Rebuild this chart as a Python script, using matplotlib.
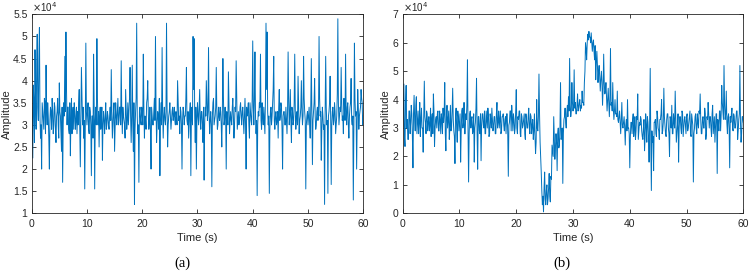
import numpy as np
import matplotlib
matplotlib.use("Agg")
import matplotlib.pyplot as plt

# Amplitude values in units of 1e4.
# amp_a / amp_b: samples at t = 0, 0.2, 0.4, ... 60 s
# amp_a_mid / amp_b_mid: samples at t = 0.1, 0.3, ... 59.9 s
amp_a = [
    3.8, 2.25, 3.5, 4.7, 2.9, 5.05, 3.1, 5.2, 2.7, 2.0,
    3.3, 2.9, 3.5, 4.35, 3.0, 3.2, 2.0, 3.4, 2.9, 3.3,
    3.0, 3.4, 2.6, 3.3, 3.0, 3.95, 3.2, 2.4, 1.7, 3.5,
    4.55, 5.1, 3.0, 3.4, 2.8, 2.3, 3.6, 3.2, 2.9, 3.3,
    3.1, 2.8, 3.0, 3.8, 2.05, 4.3, 3.0, 2.7, 1.55, 4.85,
    3.0, 3.5, 2.8, 3.3, 1.85, 3.2, 4.6, 1.55, 3.4, 4.95,
    3.0, 2.5, 3.4, 3.1, 2.2, 3.3, 2.8, 3.5, 3.0, 3.2,
    2.9, 3.4, 4.25, 2.7, 3.3, 2.4, 3.5, 3.0, 3.6, 3.1,
    3.4, 4.45, 2.8, 3.2, 3.0, 3.8, 2.9, 3.5, 3.3, 4.3,
    2.6, 4.35, 2.4, 1.2, 3.3, 5.3, 2.8, 1.7, 3.4, 3.0,
    3.3, 4.6, 2.7, 3.1, 3.5, 4.0, 2.9, 3.4, 2.0, 3.2,
    3.0, 3.6, 5.0, 2.6, 3.3, 2.9, 1.85, 3.5, 4.75, 2.7,
    3.4, 3.0, 5.3, 2.5, 3.2, 3.5, 2.9, 3.3, 3.1, 3.4,
    3.0, 3.2, 4.0, 3.1, 2.8, 3.3, 2.0, 3.4, 3.0, 3.2,
    4.3, 3.0, 2.7, 3.3, 1.85, 3.4, 5.0, 4.95, 2.6, 2.0,
    3.5, 3.0, 3.8, 2.9, 3.3, 2.6, 1.75, 3.4, 4.0, 3.1,
    4.75, 2.8, 3.3, 1.6, 3.5, 3.0, 3.2, 4.3, 2.9, 3.4,
    3.1, 3.3, 2.5, 4.5, 3.0, 3.4, 2.0, 3.2, 4.2, 2.8,
    3.3, 3.0, 3.6, 2.7, 3.4, 4.45, 2.9, 3.3, 3.1, 3.5,
    3.0, 3.4, 2.8, 3.6, 2.0, 3.2, 3.5, 2.7, 3.3, 3.0,
    4.9, 3.0, 4.65, 2.8, 1.4, 3.3, 3.5, 4.6, 2.9, 3.2,
    3.4, 2.8, 5.3, 5.1, 3.0, 1.45, 3.3, 3.0, 3.5, 4.55,
    2.9, 3.3, 3.1, 2.7, 3.8, 3.2, 3.4, 2.0, 3.3, 3.0,
    3.4, 2.8, 4.65, 3.0, 3.8, 2.6, 3.3, 3.1, 4.6, 2.9,
    3.3, 4.1, 2.8, 3.2, 4.0, 3.0, 4.55, 3.3, 1.55, 3.2,
    3.0, 3.4, 2.7, 4.5, 2.1, 3.3, 4.05, 2.9, 3.3, 3.1,
    5.0, 3.2, 2.2, 3.4, 2.9, 1.2, 4.55, 3.0, 1.45, 3.3,
    4.1, 1.65, 3.3, 3.0, 3.5, 2.8, 3.2, 5.4, 3.0, 3.4,
    4.3, 3.1, 2.8, 3.3, 4.6, 3.0, 3.5, 2.7, 3.4, 4.05,
    3.0, 1.3, 4.85, 3.2, 2.0, 3.8, 2.9, 3.3, 3.8, 3.5,
    3.2,
]

amp_a_mid = [
    3.0, 3.9, 2.6, 3.6, 4.2, 3.4, 4.5, 3.2, 3.0, 3.5,
    3.1, 3.6, 2.8, 3.3, 3.5, 2.7, 3.1, 3.3, 3.6, 2.8,
    3.5, 2.9, 3.2, 3.6, 2.7, 3.3, 2.8, 3.4, 3.0, 3.2,
    3.3, 3.8, 3.4, 2.9, 3.5, 3.1, 2.8, 3.4, 3.5, 2.9,
    3.4, 3.3, 3.5, 2.9, 3.2, 3.6, 3.4, 3.1, 3.0, 3.3,
    3.3, 2.9, 3.4, 3.0, 3.2, 2.7, 3.5, 3.1, 3.0, 3.6,
    3.3, 3.2, 2.9, 3.4, 3.0, 3.1, 3.2, 2.9, 3.3, 3.0,
    3.2, 3.1, 3.3, 3.0, 3.5, 2.9, 3.2, 3.3, 3.0, 3.4,
    3.0, 3.3, 3.4, 3.1, 2.7, 3.3, 3.1, 3.0, 3.6, 3.2,
    3.2, 3.0, 3.5, 2.9, 3.6, 3.2, 3.0, 3.3, 3.1, 3.4,
    3.0, 3.4, 3.2, 2.9, 3.6, 3.3, 3.1, 2.8, 3.4, 3.0,
    3.3, 3.1, 3.4, 3.0, 3.2, 3.6, 3.1, 3.0, 3.3, 3.2,
    3.1, 3.3, 3.4, 3.0, 3.3, 3.2, 3.1, 3.4, 3.2, 3.1,
    3.3, 3.0, 3.5, 3.2, 3.4, 3.0, 3.1, 3.3, 3.2, 3.6,
    3.1, 3.3, 3.0, 3.5, 3.2, 3.0, 3.8, 3.2, 3.4, 3.1,
    3.2, 3.4, 3.1, 3.3, 3.0, 3.4, 3.0, 3.2, 3.5, 3.3,
    3.3, 3.1, 3.0, 3.2, 3.6, 3.1, 3.4, 3.3, 3.0, 3.2,
    3.4, 3.0, 3.3, 3.6, 3.1, 3.2, 3.3, 3.0, 3.5, 3.1,
    3.1, 3.4, 3.2, 3.0, 3.3, 3.6, 3.1, 3.0, 3.4, 3.2,
    3.3, 3.1, 3.2, 3.0, 3.4, 3.3, 3.0, 3.5, 3.1, 3.6,
    3.4, 3.6, 3.2, 3.1, 3.0, 3.2, 3.4, 3.1, 3.5, 3.0,
    3.1, 3.6, 3.8, 3.3, 3.2, 2.9, 3.4, 3.2, 3.8, 3.1,
    3.2, 3.0, 3.3, 3.4, 3.1, 3.5, 2.9, 3.2, 3.3, 3.0,
    3.1, 3.3, 3.6, 3.2, 3.1, 3.4, 3.0, 3.5, 3.3, 3.2,
    3.0, 3.5, 3.1, 3.4, 3.3, 3.2, 3.6, 3.1, 3.0, 3.3,
    3.2, 3.0, 3.4, 3.3, 3.1, 3.5, 3.2, 3.0, 3.4, 3.2,
    3.6, 3.3, 2.9, 3.2, 3.0, 3.3, 3.4, 3.1, 3.2, 3.5,
    3.2, 3.0, 3.4, 3.1, 3.3, 3.0, 3.7, 3.5, 3.2, 3.3,
    3.5, 3.2, 3.6, 3.1, 3.3, 3.4, 3.0, 3.2, 3.5, 3.1,
    3.2, 2.9, 3.6, 3.3, 3.1, 3.4, 3.2, 3.4, 3.6, 3.0,
]

amp_b = [
    3.0, 4.55, 2.35, 4.5, 3.3, 2.6, 3.6, 3.2, 3.5, 1.6,
    4.15, 2.9, 4.1, 3.2, 2.8, 3.9, 3.3, 3.0, 2.15, 4.65,
    3.2, 3.6, 2.9, 3.4, 3.1, 2.7, 3.5, 4.2, 2.35, 3.3,
    3.0, 3.6, 2.9, 3.3, 3.5, 2.8, 3.2, 4.6, 2.2, 3.8,
    3.3, 2.6, 3.8, 3.0, 4.4, 2.9, 1.75, 3.7, 2.5, 3.4,
    3.2, 1.8, 3.6, 3.0, 3.9, 2.8, 3.3, 5.4, 1.1, 3.5,
    3.0, 3.4, 2.9, 1.8, 3.2, 4.75, 1.55, 3.4, 2.8, 1.85,
    3.5, 3.1, 3.6, 2.8, 3.3, 3.7, 2.7, 3.5, 3.0, 3.3,
    3.1, 3.4, 2.8, 3.9, 3.2, 3.0, 3.6, 2.9, 3.4, 3.1,
    3.3, 2.8, 3.5, 1.3, 3.2, 3.6, 3.8, 2.9, 3.3, 3.0,
    4.35, 2.8, 3.3, 3.6, 2.7, 3.4, 3.1, 3.5, 2.6, 3.3,
    3.0, 3.7, 2.8, 3.4, 3.1, 2.6, 3.5, 2.1, 4.0, 2.9,
    4.9, 2.5, 1.45, 0.3, 0.05, 1.45, 0.3, 1.0, 0.5, 1.4,
    0.4, 1.2, 2.2, 3.4, 1.9, 2.8, 1.5, 3.0, 2.4, 4.6,
    2.7, 1.05, 3.3, 3.7, 3.0, 3.8, 4.1, 5.45, 3.4, 4.6,
    3.6, 5.05, 3.9, 3.5, 4.2, 3.7, 4.0, 3.8, 4.3, 3.9,
    4.6, 6.0, 5.4, 6.3, 6.4, 6.2, 6.35, 5.7, 6.1, 5.4,
    4.7, 5.7, 4.6, 5.2, 4.3, 5.0, 3.8, 5.6, 4.2, 4.6,
    3.6, 4.4, 3.4, 5.8, 3.9, 4.6, 3.3, 4.0, 3.5, 4.3,
    3.2, 3.6, 2.8, 3.9, 3.0, 3.4, 2.4, 3.3, 4.0, 3.0,
    1.6, 3.2, 2.8, 3.5, 3.0, 2.6, 3.4, 4.2, 2.9, 3.1,
    3.3, 2.7, 3.0, 2.2, 3.5, 2.5, 3.2, 1.8, 5.1, 0.8,
    2.5, 1.5, 3.2, 2.8, 3.6, 3.0, 2.6, 3.3, 4.0, 2.9,
    4.4, 3.1, 2.7, 3.5, 3.0, 2.0, 3.3, 3.8, 2.8, 3.2,
    4.3, 2.5, 3.1, 1.8, 3.4, 3.0, 3.6, 2.7, 3.3, 3.1,
    3.4, 2.9, 3.2, 3.6, 2.7, 3.3, 1.1, 3.0, 3.5, 2.8,
    3.2, 3.6, 4.2, 2.8, 3.3, 3.0, 3.7, 2.6, 3.4, 3.9,
    3.0, 3.4, 2.7, 3.8, 3.1, 2.5, 3.5, 1.4, 3.2, 3.6,
    2.9, 4.5, 3.6, 5.2, 3.3, 4.3, 2.8, 3.5, 1.6, 3.2,
    3.7, 2.9, 3.4, 3.0, 3.6, 2.6, 3.3, 5.2, 2.5, 3.4,
    3.2,
]

amp_b_mid = [
    3.8, 2.7, 3.9, 3.0, 2.6, 3.6, 2.8, 3.8, 2.7, 3.5,
    3.3, 3.8, 2.8, 3.6, 3.2, 2.7, 3.7, 3.0, 3.5, 3.4,
    2.8, 3.5, 3.2, 2.9, 3.7, 3.3, 2.8, 3.6, 3.0, 3.4,
    3.5, 2.9, 3.6, 2.8, 3.3, 3.7, 3.5, 2.8, 3.4, 3.0,
    3.6, 3.0, 2.9, 3.6, 3.3, 2.7, 3.4, 3.0, 3.6, 2.9,
    3.5, 2.9, 3.7, 3.2, 2.8, 3.5, 3.8, 3.0, 2.8, 3.6,
    3.3, 2.8, 3.5, 3.0, 3.7, 2.8, 3.4, 2.9, 3.5, 3.1,
    3.5, 3.0, 2.8, 3.6, 3.0, 3.4, 2.8, 3.3, 3.7, 2.9,
    3.4, 2.8, 3.5, 3.0, 3.6, 3.3, 2.8, 3.4, 3.5, 2.9,
    3.4, 3.5, 2.8, 3.1, 3.6, 2.9, 3.4, 3.5, 2.8, 3.6,
    3.0, 3.4, 3.6, 2.8, 3.5, 3.0, 3.3, 2.8, 3.5, 3.0,
    3.4, 3.0, 3.5, 2.8, 3.3, 2.9, 2.7, 2.5, 3.0, 3.4,
    3.5, 2.0, 0.8, 0.6, 0.9, 0.5, 0.8, 0.3, 0.9, 0.6,
    1.3, 2.4, 2.0, 2.6, 2.3, 2.5, 2.8, 2.3, 3.0, 2.6,
    3.0, 2.8, 3.4, 3.2, 3.5, 3.4, 3.6, 3.8, 3.6, 3.9,
    3.8, 3.7, 3.5, 3.8, 3.6, 3.9, 3.6, 3.7, 3.9, 3.8,
    5.0, 5.8, 6.0, 6.1, 6.2, 6.0, 6.0, 6.0, 5.7, 5.9,
    5.3, 5.2, 5.0, 4.8, 4.7, 4.6, 4.4, 4.6, 4.3, 4.1,
    4.0, 3.9, 4.0, 3.8, 3.6, 3.7, 3.6, 3.5, 3.4, 3.3,
    3.4, 3.2, 3.3, 3.1, 3.2, 3.0, 3.1, 2.9, 3.0, 2.8,
    2.7, 3.2, 3.3, 2.7, 3.4, 2.9, 3.3, 2.6, 3.2, 3.4,
    2.9, 2.6, 3.3, 2.7, 3.1, 3.4, 2.7, 3.2, 2.6, 2.9,
    2.7, 3.2, 3.3, 2.7, 3.4, 2.9, 3.3, 3.5, 2.8, 3.2,
    3.4, 2.8, 3.3, 3.5, 2.8, 3.4, 3.0, 2.8, 3.5, 3.0,
    3.4, 2.8, 3.5, 3.0, 3.4, 2.8, 3.5, 3.0, 3.4, 2.8,
    3.5, 3.0, 3.4, 2.8, 3.5, 3.1, 2.8, 3.4, 3.0, 3.5,
    3.0, 3.5, 3.3, 2.8, 3.4, 3.0, 3.5, 2.8, 3.3, 3.5,
    3.4, 3.0, 3.5, 2.8, 3.4, 3.0, 3.5, 3.3, 2.9, 3.6,
    3.5, 3.9, 3.3, 3.8, 3.5, 3.2, 3.4, 3.0, 3.4, 3.5,
    3.0, 3.5, 3.0, 3.3, 3.6, 2.9, 3.5, 3.2, 2.8, 3.4,
]


def merge(even, odd):
    out = np.empty(len(even) + len(odd))
    out[0::2] = even
    out[1::2] = odd
    return out


series_a = merge(amp_a, amp_a_mid)
series_b = merge(amp_b, amp_b_mid)
time_a = np.linspace(0, 60, len(series_a))
time_b = np.linspace(0, 60, len(series_b))

xticks = [0, 10, 20, 30, 40, 50, 60]
yticks_a = [1, 1.5, 2, 2.5, 3, 3.5, 4, 4.5, 5, 5.5]
yticks_b = [0, 1, 2, 3, 4, 5, 6, 7]
captions = ["(a)", "(b)"]

plt.rcParams['font.family'] = ['Liberation Sans', 'DejaVu Sans']
line_color = "#0072BD"
axis_color = "#262626"

fig = plt.figure(figsize=(7.49, 2.71), dpi=100)
ax1 = fig.add_axes([0.0423, 0.213, 0.4427, 0.734])
ax2 = fig.add_axes([0.5377, 0.213, 0.4547, 0.734])

for ax, t, y, yt, cap, cx in [
    (ax1, time_a, series_a, yticks_a, captions[0], 0.243),
    (ax2, time_b, series_b, yticks_b, captions[1], 0.750),
]:
    ax.plot(t, y, color=line_color, linewidth=0.7)
    ax.set_xlim(0, 60)
    ax.set_ylim(yt[0], yt[-1])
    ax.set_xticks(xticks)
    ax.set_yticks(yt)
    ax.set_xticklabels([f"{v:g}" for v in xticks])
    ax.set_yticklabels([f"{v:g}" for v in yt])
    ax.tick_params(direction='in', length=3, width=0.6, labelsize=7.5,
                   colors=axis_color, top=True, right=True)
    ax.tick_params(axis='x', pad=4)
    ax.tick_params(axis='y', pad=3)
    for s in ax.spines.values():
        s.set_color(axis_color)
        s.set_linewidth(0.6)
    ax.set_xlabel("Time (s)", fontsize=8, color=axis_color, labelpad=3)
    ax.set_ylabel("Amplitude", fontsize=8, color=axis_color, labelpad=1)
    ax.text(0.0, 1.012, r"$\times$10$^{4}$", transform=ax.transAxes,
            fontsize=7, color=axis_color, ha='left', va='baseline')
    fig.text(cx, 0.03, cap, fontsize=10.5, family='Liberation Serif',
             ha='center', va='center')

fig.savefig("out.png", dpi=100)
